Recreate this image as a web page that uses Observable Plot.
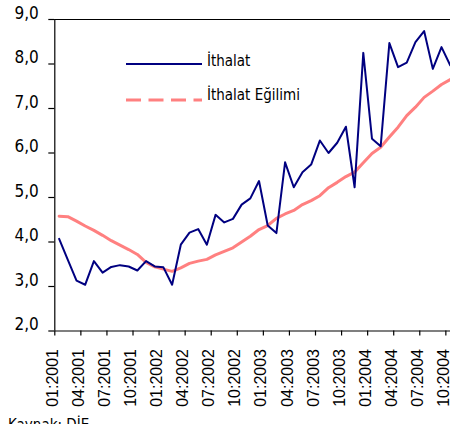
<!DOCTYPE html>
<html>
<head>
<meta charset="utf-8">
<script src="https://cdn.jsdelivr.net/npm/d3@7"></script>
<script src="https://cdn.jsdelivr.net/npm/@observablehq/plot@0.6"></script>
<style>
  html, body { margin: 0; padding: 0; background: #fff; overflow: hidden; }
  #wrap { position: relative; width: 450px; height: 424px; overflow: hidden; }
  #chart svg { display: block; }
  .legtext { position: absolute; font-family: "DejaVu Sans Condensed", "DejaVu Sans", sans-serif; font-size: 15px; line-height: 15px; color: #000; white-space: nowrap; }
  .legsw { position: absolute; }
  #cap { font-family: "DejaVu Sans Condensed", "DejaVu Sans", sans-serif; font-size: 15px; line-height: 15px; padding-left: 8px; margin-top: 2px; color: #000; }
</style>
</head>
<body>
<div id="wrap">
  <div id="chart"></div>
  <svg class="legsw" style="left:126px; top:62px;" width="76" height="4"><line x1="0" x2="76" y1="2" y2="2" stroke="#000080" stroke-width="2"/></svg>
  <div class="legtext" style="left:207px; top:54px;">İthalat</div>
  <svg class="legsw" style="left:126px; top:98px;" width="76" height="4"><line x1="0" x2="76" y1="2" y2="2" stroke="#ff8080" stroke-width="3" stroke-dasharray="15,7.5"/></svg>
  <div class="legtext" style="left:207px; top:88px;">İthalat Eğilimi</div>
  <div id="cap">Kaynak: DİE</div>
</div>
<script>
// Monthly imports (01:2001 .. 10:2004 visible)
const ithalat = [
  4.07, 3.60, 3.13, 3.04, 3.57, 3.31, 3.44, 3.48, 3.45, 3.36, 3.57, 3.45,
  3.43, 3.04, 3.94, 4.21, 4.29, 3.94, 4.61, 4.44, 4.52, 4.84, 4.98, 5.37,
  4.37, 4.20, 5.79, 5.23, 5.57, 5.74, 6.28, 6.00, 6.23, 6.59, 5.23, 8.25,
  6.32, 6.15, 8.47, 7.93, 8.03, 8.49, 8.74, 7.89, 8.38, 7.97
];
const egilim = [
  4.58, 4.57, 4.47, 4.36, 4.26, 4.15, 4.03, 3.93, 3.83, 3.72, 3.54, 3.44,
  3.39, 3.34, 3.42, 3.52, 3.57, 3.61, 3.71, 3.79, 3.87, 4.00, 4.13, 4.28,
  4.37, 4.53, 4.63, 4.71, 4.84, 4.93, 5.04, 5.22, 5.34, 5.47, 5.57, 5.78,
  5.99, 6.13, 6.36, 6.58, 6.84, 7.03, 7.25, 7.39, 7.54, 7.65
];
const tickLabels = [
  "01:2001", "04:2001", "07:2001", "10:2001",
  "01:2002", "04:2002", "07:2002", "10:2002",
  "01:2003", "04:2003", "07:2003", "10:2003",
  "01:2004", "04:2004", "07:2004", "10:2004"
];
const yTicks = [2, 3, 4, 5, 6, 7, 8, 9];
const monthsTotal = 48;

const rows1 = ithalat.map((v, i) => ({t: i + 0.5, v}));
const rows2 = egilim.map((v, i) => ({t: i + 0.5, v}));
const tickPos = tickLabels.map((_, i) => i * 3);
const fmt = d => d.toFixed(1).replace(".", ",");

const chart = Plot.plot({
  width: 450,
  height: 416,
  marginLeft: 54.3,
  marginRight: 0,
  marginTop: 19,
  marginBottom: 85.5,
  style: {fontFamily: "'DejaVu Sans Condensed', 'DejaVu Sans', sans-serif", background: "#fff", color: "#000"},
  x: {type: "linear", domain: [0, monthsTotal], range: [54.3, 54.3 + 8.69 * monthsTotal]},
  y: {domain: [2, 9]},
  marks: [
    Plot.ruleY([9], {stroke: "#000", strokeWidth: 1.2}),
    Plot.ruleY([2], {stroke: "#000", strokeWidth: 1.2}),
    Plot.ruleX([0], {stroke: "#000", strokeWidth: 1.2}),
    Plot.axisY({ticks: yTicks, tickSize: 6, tickFormat: () => "", label: null, strokeWidth: 1.2}),
    Plot.text(yTicks, {y: d => d, text: fmt, frameAnchor: "left", textAnchor: "end", dx: -16, dy: -6, fontSize: 17, fill: "#000"}),
    Plot.axisX({ticks: tickPos, tickSize: 5, tickFormat: () => "", label: null, strokeWidth: 1.2}),
    Plot.text(tickPos, {x: d => d, text: (d, i) => tickLabels[i], frameAnchor: "bottom", rotate: -90, textAnchor: "end", lineAnchor: "middle", dy: 18, dx: -2, fontSize: 16, fontFamily: "'Liberation Sans', Arial, sans-serif", fill: "#000"}),
    Plot.line(rows2, {x: "t", y: "v", stroke: "#ff8080", strokeWidth: 3}),
    Plot.line(rows1, {x: "t", y: "v", stroke: "#000080", strokeWidth: 2})
  ]
});
document.getElementById("chart").appendChild(chart);
</script>
</body>
</html>
